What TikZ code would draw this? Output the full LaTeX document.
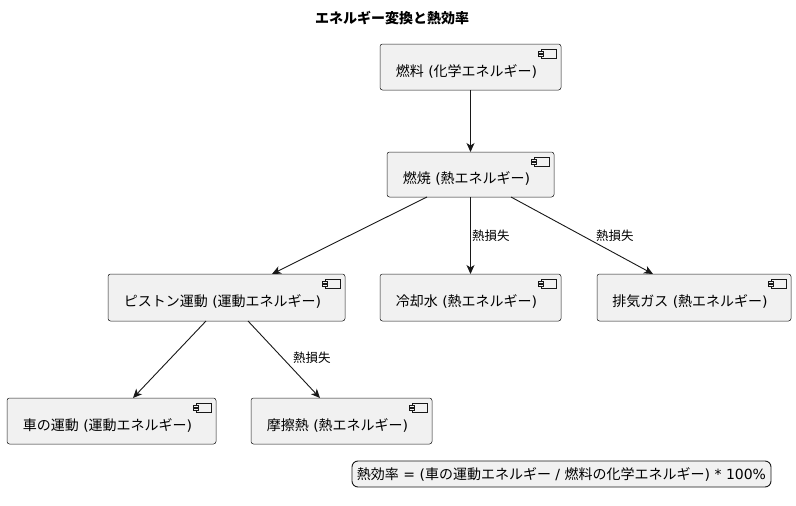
\documentclass[tikz,border=0pt]{standalone}
\usepackage{fontspec}
\setmainfont{Noto Sans CJK JP}
\newfontfamily\latf{DejaVu Sans}
\newcommand{\lt}[1]{{\latf #1}}
\usetikzlibrary{arrows.meta}
\definecolor{boxfill}{HTML}{F1F1F1}
\definecolor{edge}{HTML}{181818}
\tikzset{
  comp/.style={draw=edge, fill=boxfill, rounded corners=2.5pt, line width=0.5pt, anchor=north west, inner sep=0pt},
  txt/.style={font=\fontsize{14}{16}\selectfont, text=black, inner sep=0pt},
  lbl/.style={font=\fontsize{12.5}{15}\selectfont, text=black, inner sep=0pt, anchor=west},
  conn/.style={draw=edge, line width=0.9pt, -{Stealth[length=9pt,width=8pt,inset=2.5pt]}},
}
\newcommand{\mycomp}[6]{% name, x1, y1, x2, y2, text
  \path[comp] (#2,#3) rectangle (#4,#5);
  \coordinate (#1-nw) at (#2,#3);
  \coordinate (#1-se) at (#4,#5);
  \node[txt] (#1) at ({(#2+#4)/2-4},{(#3+#5)/2+4}) {#6};
  \draw[draw=edge, line width=0.5pt, fill=boxfill] ({#4-20},{#3+5}) rectangle ({#4-5},{#3+14});
  \draw[draw=edge, line width=0.5pt, fill=boxfill] ({#4-23},{#3+7}) rectangle ({#4-18},{#3+9});
  \draw[draw=edge, line width=0.5pt, fill=boxfill] ({#4-23},{#3+10}) rectangle ({#4-18},{#3+12});
}
\begin{document}
\begin{tikzpicture}[x=1pt,y=-1pt]
\useasboundingbox[fill=white] (0,0) rectangle (796,506);
\node[font=\fontsize{14}{16}\selectfont\bfseries, inner sep=0pt] (title) at (392,18) {エネルギー変換と熱効率};

\mycomp{fuel}{380}{44}{561}{90}{燃料\lt{ (}化学エネルギー\lt{)}}
\mycomp{burn}{387}{152}{554}{197}{燃焼\lt{ (}熱エネルギー\lt{)}}
\mycomp{piston}{108}{274}{345}{321}{ピストン運動\lt{ (}運動エネルギー\lt{)}}
\mycomp{cool}{380}{274}{561}{321}{冷却水\lt{ (}熱エネルギー\lt{)}}
\mycomp{exh}{597}{274}{791}{321}{排気ガス\lt{ (}熱エネルギー\lt{)}}
\mycomp{car}{7}{398}{216}{444}{車の運動\lt{ (}運動エネルギー\lt{)}}
\mycomp{fric}{251}{398}{432}{444}{摩擦熱\lt{ (}熱エネルギー\lt{)}}

\coordinate (fuelB) at (470.5,90);
\coordinate (burnT) at (470.5,152);
\coordinate (burnB1) at (427,197);
\coordinate (burnB2) at (470.5,197);
\coordinate (burnB3) at (511,197);
\coordinate (pistonT) at (272,274);
\coordinate (coolT) at (470.5,274);
\coordinate (exhT) at (653,274);
\coordinate (pistonB1) at (206,321);
\coordinate (pistonB2) at (248,321);
\coordinate (carT) at (133,398);
\coordinate (fricT) at (320,398);

\draw[conn] (fuelB) -- (burnT);
\draw[conn] (burnB1) -- (pistonT);
\draw[conn] (burnB2) -- (coolT);
\draw[conn] (burnB3) -- (exhT);
\draw[conn] (pistonB1) -- (carT);
\draw[conn] (pistonB2) -- (fricT);

\node[lbl] (l1) at (472,236) {熱損失};
\node[lbl] (l2) at (596,236) {熱損失};
\node[lbl] (l3) at (293,358) {熱損失};

\node[draw=edge, fill=boxfill, rounded corners=6pt, line width=0.9pt, minimum width=419pt, minimum height=26pt, inner sep=0pt, font=\fontsize{14}{16}\selectfont] (legend) at (561.5,474) {熱効率\lt{ = (}車の運動エネルギー\lt{ / }燃料の化学エネルギー\lt{) * 100\%}};
\end{tikzpicture}
\end{document}
